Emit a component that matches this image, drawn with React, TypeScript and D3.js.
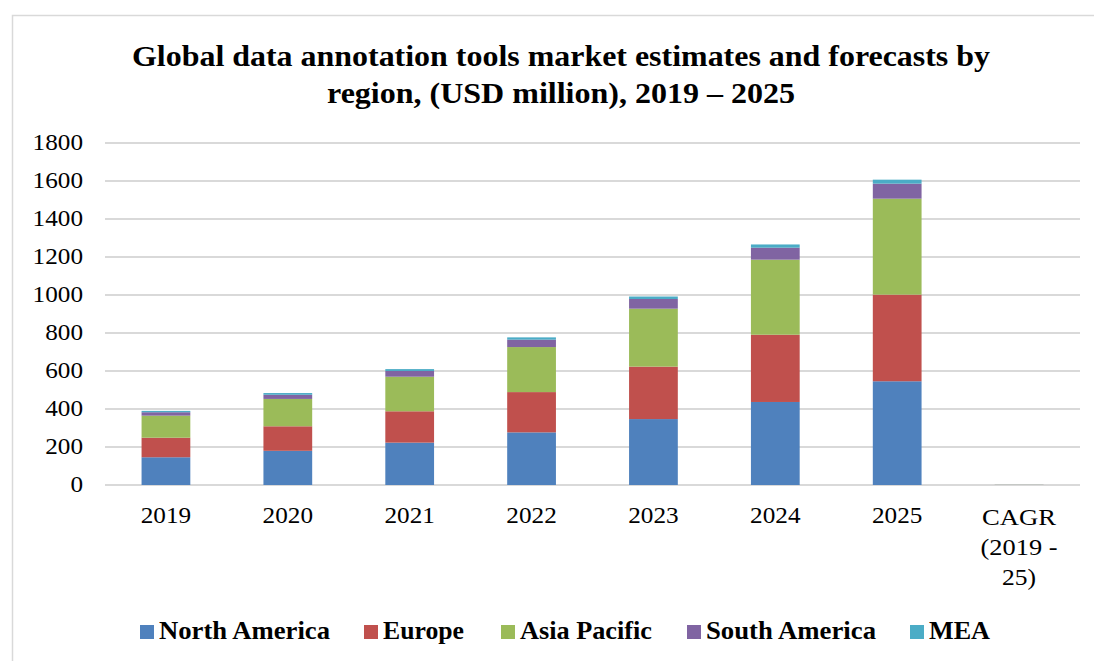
import React from 'react';
import * as d3 from 'd3';

const categories = ['2019', '2020', '2021', '2022', '2023', '2024', '2025', 'CAGR'];
const northAmerica = [146, 180, 223, 277, 347, 437, 546, 0.25];
const europe = [103, 129, 165, 212, 276, 354, 456, 0.27];
const asiaPacific = [116, 144, 182, 237, 305, 395, 505, 0.28];
const southAmerica = [18, 22, 30, 39, 51, 63, 79, 0.26];
const mea = [7, 9, 10, 12, 13, 17, 21, 0.2];
const yTicks = [0, 200, 400, 600, 800, 1000, 1200, 1400, 1600, 1800];
const cagrLabel = ['CAGR', '(2019 -', '25)'];

const seriesNames = ['North America', 'Europe', 'Asia Pacific', 'South America', 'MEA'];
const seriesData = [northAmerica, europe, asiaPacific, southAmerica, mea];
const colors = ['#4f81bd', '#c0504d', '#9bbb59', '#8064a2', '#4bacc6'];

const W = 1094;
const H = 661;
const font = '"Liberation Serif", "Times New Roman", serif';

// legend layout (square x, text width)
const legendX = [140, 364, 501, 687, 910];
const legendW = [171, 81, 132, 170, 61];
const cagrW = [74, 77, 34];

const App = () => {
  const x = d3.scaleBand().domain(categories).range([105, 1080]).paddingInner(0.6).paddingOuter(0.3);
  const y = d3.scaleLinear().domain([0, 1800]).range([485, 143]);

  const rows = categories.map((c, i) => {
    const r: any = { cat: c };
    seriesNames.forEach((s, k) => (r[s] = seriesData[k][i]));
    return r;
  });
  const stacked = d3.stack().keys(seriesNames)(rows);

  const numW = (s: string) => s.length * 12.6;

  return (
    <svg width={W} height={H} style={{ position: 'absolute', left: 0, top: 0, background: '#fff' }}>
      <rect x={12.5} y={15.5} width={1100} height={700} fill="#fff" stroke="#d9d9d9" strokeWidth={1.5} />
      <text x={561} y={66} textAnchor="middle" fontFamily={font} fontWeight="bold" fontSize={30}
        textLength={858} lengthAdjust="spacingAndGlyphs">
        Global data annotation tools market estimates and forecasts by
      </text>
      <text x={561} y={103} textAnchor="middle" fontFamily={font} fontWeight="bold" fontSize={30}
        textLength={468} lengthAdjust="spacingAndGlyphs">
        region, (USD million), 2019 – 2025
      </text>
      {yTicks.map((t) => (
        <g key={t}>
          <line x1={105} x2={1080} y1={y(t)} y2={y(t)} stroke="#d9d9d9" strokeWidth={2} />
          <text x={83} y={y(t) + 7} textAnchor="end" fontFamily={font} fontSize={23}
            textLength={numW(String(t))} lengthAdjust="spacingAndGlyphs">
            {t}
          </text>
        </g>
      ))}
      {stacked.map((layer, k) => (
        <g key={layer.key} fill={colors[k]}>
          {layer.map((d, i) => (
            <rect
              key={i}
              x={x(categories[i])}
              width={x.bandwidth()}
              y={y(d[1])}
              height={Math.max(0, y(d[0]) - y(d[1]))}
            />
          ))}
        </g>
      ))}
      {categories.map((c) => {
        const cx = (x(c) as number) + x.bandwidth() / 2;
        if (c === 'CAGR') {
          return (
            <g key={c}>
              {cagrLabel.map((l, j) => (
                <text key={l} x={cx} y={525 + j * 30} textAnchor="middle" fontFamily={font} fontSize={23}
                  textLength={cagrW[j]} lengthAdjust="spacingAndGlyphs">
                  {l}
                </text>
              ))}
            </g>
          );
        }
        return (
          <text key={c} x={cx} y={523} textAnchor="middle" fontFamily={font} fontSize={23}
            textLength={numW(c)} lengthAdjust="spacingAndGlyphs">
            {c}
          </text>
        );
      })}
      {seriesNames.map((s, k) => (
        <g key={s}>
          <rect x={legendX[k]} y={625} width={14} height={14} fill={colors[k]} />
          <text x={legendX[k] + 19} y={639} fontFamily={font} fontWeight="bold" fontSize={25}
            textLength={legendW[k]} lengthAdjust="spacingAndGlyphs">
            {s}
          </text>
        </g>
      ))}
    </svg>
  );
};

export default App;
